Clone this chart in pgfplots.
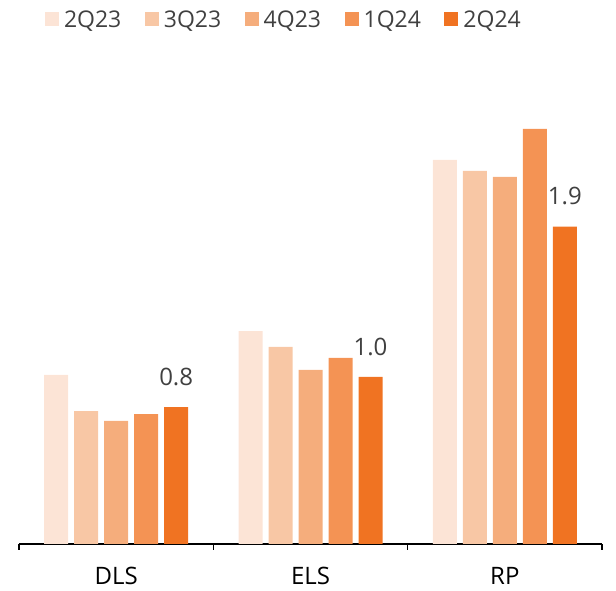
\documentclass[border=0pt]{standalone}
\usepackage{pgfplots}
\pgfplotsset{compat=1.18}
\usepackage{fontspec}
\setmainfont{Open Sans}
\definecolor{cA}{HTML}{FCE4D6}
\definecolor{cB}{HTML}{F8C7A5}
\definecolor{cC}{HTML}{F5AD7C}
\definecolor{cD}{HTML}{F49354}
\definecolor{cE}{HTML}{F07322}
\definecolor{tgray}{HTML}{404040}
\begin{document}
\begin{tikzpicture}
\path[use as bounding box] (-19pt,-47pt) rectangle (597pt,544pt);
\begin{axis}[
  scale only axis,
  width=583pt, height=501pt,
  anchor=south west, at={(0,0)},
  xmin=-0.5, xmax=2.5, ymin=0, ymax=3,
  axis x line*=bottom, axis y line=none,
  axis line style={line width=1.2pt, black},
  ybar=6pt, bar width=24pt,
  xtick={0,1,2}, xticklabels={DLS,ELS,RP},
  minor xtick={-0.5,0.5,1.5,2.5},
  xtick align=outside,
  major tick length=0pt, minor tick length=6pt,
  minor tick style={line width=1.2pt, black},
  xticklabel style={font=\fontsize{24}{28}\selectfont, text=black, yshift=-20pt},
  ytick=\empty,
  clip=false,
  /pgf/number format/assume math mode=true,
  legend columns=5,
  legend style={draw=none, fill=none, inner sep=0pt, outer sep=0pt,
    at={(0.0446,1.0469)}, anchor=west,
    font=\fontsize{23}{27}\selectfont, text=tgray,
    nodes={inner sep=0pt},
    /tikz/every even column/.append style={column sep=23.5pt},
    /tikz/every odd column/.append style={column sep=5pt}},
  legend image code/.code={\fill[#1] (0pt,-7pt) rectangle (14pt,7pt);},
]
\addplot[fill=cA, draw=none] coordinates {(0,1.012) (1,1.275) (2,2.30)};
\addplot[fill=cB, draw=none] coordinates {(0,0.796) (1,1.18) (2,2.234)};
\addplot[fill=cC, draw=none] coordinates {(0,0.737) (1,1.042) (2,2.198)};
\addplot[fill=cD, draw=none] coordinates {(0,0.778) (1,1.114) (2,2.485)};
\addplot[fill=cE, draw=none,
  nodes near coords={\pgfmathprintnumber[fixed,fixed zerofill,precision=1,assume math mode=true]{\pgfplotspointmeta}},
  every node near coord/.append style={font=\fontsize{24}{28}\selectfont, text=tgray, yshift=18pt}]
  coordinates {(0,0.82) (1,1.0) (2,1.9)};
\legend{2Q23,3Q23,4Q23,1Q24,2Q24}
\end{axis}
\end{tikzpicture}
\end{document}
